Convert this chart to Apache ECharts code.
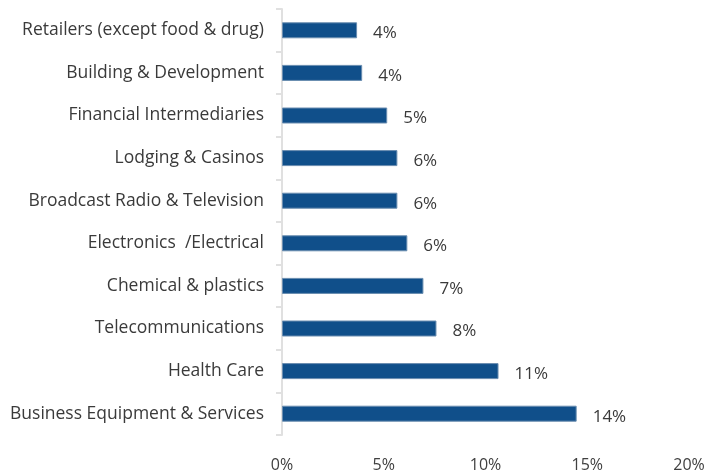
<!DOCTYPE html>
<html><head><meta charset="utf-8">
<script src="https://cdn.jsdelivr.net/npm/echarts@6/dist/echarts.min.js"></script>
<style>html,body{margin:0;padding:0;background:#fff}#c{width:708px;height:473px}</style>
</head><body><div id="c"></div>
<script>
const categories = ["Business Equipment & Services","Health Care","Telecommunications","Chemical & plastics","Electronics  /Electrical","Broadcast Radio & Television","Lodging & Casinos","Financial Intermediaries","Building & Development","Retailers (except food & drug)"];
const values = [14.48, 10.64, 7.59, 6.95, 6.16, 5.67, 5.67, 5.17, 3.94, 3.69];
const labels = ["14%","11%","8%","7%","6%","6%","6%","5%","4%","4%"];
const xTicks = [0, 5, 10, 15, 20];
const font = "'Open Sans', 'Noto Sans', sans-serif";
const chart = echarts.init(document.getElementById('c'));
chart.setOption({
  animation: false,
  grid: {left: 282, right: 19, top: 9, bottom: 36},
  xAxis: {type: 'value', min: xTicks[0], max: xTicks[xTicks.length-1], interval: 5,
    axisLine: {show: false}, axisTick: {show: false}, splitLine: {show: false},
    axisLabel: {formatter: v => v + '%', color: '#404040', fontSize: 16, fontFamily: font, margin: 22}},
  yAxis: {type: 'category', data: categories,
    axisLine: {show: true, lineStyle: {color: '#e0e0e0', width: 2}},
    axisTick: {show: true, length: 6, lineStyle: {color: '#e0e0e0', width: 2}},
    axisLabel: {color: '#3a3a3a', fontSize: 17.5, fontFamily: font, margin: 18, padding: [4, 0, 0, 0]}},
  series: [{type: 'bar', data: values, barWidth: 16,
    itemStyle: {color: '#104f8a', borderColor: '#6a8db0', borderWidth: 1},
    label: {show: true, position: 'right', distance: 16, offset: [0, 3],
      formatter: p => labels[p.dataIndex], color: '#3a3a3a', fontSize: 17, fontFamily: font}}]
});
</script></body></html>
